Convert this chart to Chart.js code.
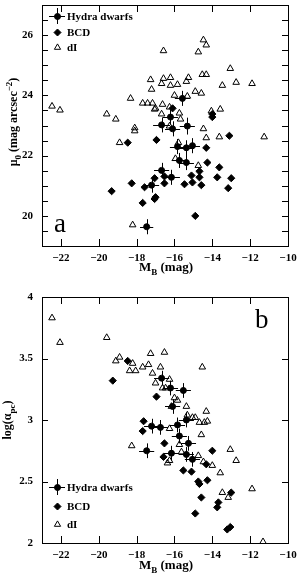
<!DOCTYPE html>
<html>
<head>
<meta charset="utf-8">
<script src="https://cdn.jsdelivr.net/npm/chart.js@4.4.1/dist/chart.umd.min.js"></script>
<style>
  html, body { margin: 0; padding: 0; background: #fff; }
  #wrap { position: relative; width: 299px; height: 574px; }
  canvas { position: absolute; left: 0; display: block; }
</style>
</head>
<body>
<div id="wrap">
  <canvas id="panelA" width="299" height="287" style="top:0"></canvas>
  <canvas id="panelB" width="299" height="287" style="top:287px"></canvas>
</div>
<script>
// Two-panel dwarf galaxy plot: central surface brightness (a) and scale length (b) vs M_B

// ============ DATA ============

const X_TICKS = [-22, -20, -18, -16, -14, -12, -10];

// panel a: mu_0 (mag arcsec^-2)
const A_Y_LABELS = [20, 22, 24, 26];
const A_Y_TICKS = [19, 19.5, 20, 20.5, 21, 21.5, 22, 22.5, 23, 23.5, 24, 24.5, 25, 25.5, 26, 26.5, 27];

const A_HYDRA_MB = [-15.58, -16.21, -16.68, -16.10, -15.32, -15.84, -15.37, -15.05, -15.74, -15.37, -16.68, -16.16, -17.21, -17.47];
const A_HYDRA_MU = [23.90, 23.28, 23.02, 22.89, 22.98, 22.30, 22.26, 22.33, 21.84, 21.77, 21.51, 21.28, 21.02, 19.64];
const A_HYDRA_XERR = [0.40, 0.40, 0.45, 0.40, 0.40, 0.40, 0.40, 0.40, 0.40, 0.40, 0.40, 0.45, 0.40, 0.35];
const A_HYDRA_YERR = [0.25, 0.25, 0.25, 0.25, 0.28, 0.25, 0.25, 0.25, 0.25, 0.25, 0.25, 0.25, 0.25, 0.25];

const A_BCD_MB = [-16.10, -14.00, -14.00, -13.10, -18.47, -16.95, -14.32, -14.26, -13.63, -14.68, -15.10, -14.68, -13.74, -13.00,
                  -15.05, -15.47, -14.58, -13.16, -16.53, -16.53, -17.05, -18.26, -17.58, -17.00, -17.05, -17.68, -19.32, -14.90];
const A_BCD_MU = [23.57, 23.38, 23.28, 22.66, 22.43, 22.52, 22.26, 21.77, 21.61, 21.48, 21.34, 21.28, 21.28, 21.25,
                  21.11, 21.05, 21.02, 20.92, 21.31, 21.08, 21.25, 21.08, 20.95, 20.62, 20.56, 20.43, 20.82, 20.00];

const A_DI_MB = [-22.47, -22.05, -19.58, -19.10, -18.32, -18.10, -18.10, -18.90, -17.68, -17.42, -17.16, -17.26, -17.21,
                 -17.00, -16.68, -16.68, -16.63, -16.58, -16.58, -16.26, -16.21, -16.21, -16.26, -16.00, -15.84, -15.74,
                 -15.68, -15.79, -15.37, -15.26, -15.32, -14.90, -14.58, -14.74, -14.53, -14.32, -14.47, -14.32, -14.47,
                 -14.32, -14.74, -14.05, -13.58, -13.63, -13.47, -13.05, -12.74, -11.90, -11.26, -18.21, -15.95, -17.05];
const A_DI_MU = [23.64, 23.51, 23.38, 23.21, 23.90, 22.92, 22.82, 22.43, 23.74, 23.74, 23.74, 24.52, 24.20,
                 23.57, 24.39, 23.38, 23.70, 25.48, 24.56, 23.61, 24.59, 24.33, 22.98, 24.00, 24.36, 23.41,
                 23.21, 22.43, 24.46, 24.59, 23.97, 24.13, 24.07, 25.44, 24.69, 24.69, 25.84, 25.67, 22.89,
                 22.59, 21.67, 23.48, 23.54, 22.62, 24.33, 24.89, 24.43, 24.39, 22.62, 19.70, 21.90, 23.54];

// panel b: log(alpha_pc)
const B_Y_LABELS = [2, 2.5, 3, 3.5, 4];
const B_Y_TICKS = [2, 2.5, 3, 3.5, 4];

const B_HYDRA_MB = [-16.68, -16.21, -15.53, -16.10, -15.37, -15.84, -17.21, -16.74, -15.74, -15.26, -17.47, -16.16, -15.37, -15.05];
const B_HYDRA_LA = [3.34, 3.26, 3.24, 3.11, 3.00, 2.96, 2.95, 2.94, 2.87, 2.81, 2.75, 2.73, 2.72, 2.68];
const B_HYDRA_XERR = [0.40, 0.40, 0.40, 0.40, 0.40, 0.40, 0.40, 0.40, 0.40, 0.40, 0.40, 0.40, 0.40, 0.40];
const B_HYDRA_YERR = [0.06, 0.06, 0.06, 0.06, 0.06, 0.06, 0.06, 0.06, 0.06, 0.06, 0.06, 0.06, 0.06, 0.06];

const B_BCD_MB = [-19.26, -18.47, -17.63, -16.95, -17.68, -16.53, -16.58, -14.00, -15.53, -15.10, -14.74, -14.68, -14.26, -14.32,
                  -13.00, -14.58, -13.68, -13.74, -14.90, -13.05, -13.21];
const B_BCD_LA = [3.32, 3.48, 2.99, 3.19, 2.91, 2.81, 2.70, 2.75, 2.59, 2.58, 2.50, 2.48, 2.51, 2.64,
                  2.41, 2.37, 2.33, 2.29, 2.24, 2.13, 2.11];

const B_DI_MB = [-22.47, -22.05, -19.58, -18.90, -19.10, -18.21, -18.37, -18.05, -17.68, -17.26, -17.37, -16.53, -16.74,
                 -17.16, -17.00, -16.26, -16.63, -16.47, -15.84, -15.37, -16.16, -15.32, -14.90, -14.32, -14.53, -15.05,
                 -14.68, -14.42, -14.26, -16.26, -14.58, -15.74, -15.63, -13.05, -12.74, -14.74, -16.26, -16.37, -14.47,
                 -14.00, -13.58, -13.47, -13.16, -11.90, -11.32, -18.26, -16.00];
const B_DI_LA = [3.83, 3.63, 3.67, 3.51, 3.48, 3.46, 3.40, 3.40, 3.43, 3.54, 3.45, 3.55, 3.43,
                 3.38, 3.30, 3.33, 3.26, 3.26, 3.16, 3.11, 3.11, 3.04, 3.02, 3.07, 3.43, 3.02,
                 2.98, 2.98, 2.99, 2.93, 2.88, 2.80, 2.74, 2.76, 2.67, 2.71, 2.67, 2.65, 2.66,
                 2.63, 2.57, 2.41, 2.37, 2.44, 2.01, 2.79, 3.18];

// ============ HELPERS ============

const FONT = '"Liberation Serif", "DejaVu Serif", serif';

function pts(xs, ys) {
  return xs.map((x, i) => ({ x: x, y: ys[i] }));
}

function minus(v) {
  return String(v).replace('-', '\u2212');
}

// draw text with sub/superscript pieces: [text, 'sub'|'sup'|'']
function drawRich(ctx, parts, x, y, size) {
  let total = 0;
  parts.forEach(p => {
    ctx.font = `bold ${p[1] ? Math.round(size * 0.72) : size}px ${FONT}`;
    total += ctx.measureText(p[0]).width;
  });
  let cx = x - total / 2;
  parts.forEach(p => {
    ctx.font = `bold ${p[1] ? Math.round(size * 0.72) : size}px ${FONT}`;
    const dy = p[1] === 'sub' ? size * 0.3 : p[1] === 'sup' ? -size * 0.4 : 0;
    ctx.fillText(p[0], cx, y + dy);
    cx += ctx.measureText(p[0]).width;
  });
}

function drawLegendSymbol(ctx, kind, x, y) {
  ctx.save();
  ctx.strokeStyle = '#000';
  ctx.fillStyle = '#000';
  ctx.lineWidth = 1;
  if (kind === 'hydra') {
    ctx.beginPath();
    ctx.moveTo(x - 8, y + 0.5); ctx.lineTo(x + 8, y + 0.5);
    ctx.moveTo(x + 0.5, y - 8); ctx.lineTo(x + 0.5, y + 8);
    ctx.stroke();
    Chart.helpers.drawPoint(ctx, { pointStyle: 'circle', radius: 3, borderWidth: 1 }, x + 0.5, y + 0.5);
  } else if (kind === 'bcd') {
    Chart.helpers.drawPoint(ctx, { pointStyle: 'rectRot', radius: 3.5, borderWidth: 1 }, x + 0.5, y + 0.5);
  } else {
    ctx.fillStyle = 'rgba(0,0,0,0)';
    Chart.helpers.drawPoint(ctx, { pointStyle: 'triangle', radius: 3.6, borderWidth: 1 }, x + 0.5, y + 0.5);
  }
  ctx.restore();
}

// frame, inward ticks, error bars, legend, axis titles
const decorPlugin = {
  id: 'decor',
  afterDatasetsDraw(chart, args, opts) {
    const ctx = chart.ctx;
    const a = chart.chartArea;
    const xs = chart.scales.x, ys = chart.scales.y;
    ctx.save();
    ctx.strokeStyle = '#000';
    ctx.fillStyle = '#000';
    ctx.lineWidth = 1;

    // error bars on the Hydra points
    const hx = opts.hydraX, hy = opts.hydraY;
    ctx.beginPath();
    hx.forEach((x, i) => {
      const px = Math.round(xs.getPixelForValue(x)) + 0.5;
      const py = Math.round(ys.getPixelForValue(hy[i])) + 0.5;
      ctx.moveTo(xs.getPixelForValue(x - opts.xerr[i]), py);
      ctx.lineTo(xs.getPixelForValue(x + opts.xerr[i]), py);
      ctx.moveTo(px, ys.getPixelForValue(hy[i] - opts.yerr[i]));
      ctx.lineTo(px, ys.getPixelForValue(hy[i] + opts.yerr[i]));
    });
    ctx.stroke();

    // box
    ctx.strokeRect(a.left + 0.5, a.top + 0.5, a.right - a.left, a.bottom - a.top);

    // ticks pointing in
    ctx.beginPath();
    X_TICKS.forEach(v => {
      const px = Math.round(xs.getPixelForValue(v)) + 0.5;
      ctx.moveTo(px, a.bottom); ctx.lineTo(px, a.bottom - 7);
      ctx.moveTo(px, a.top); ctx.lineTo(px, a.top + 7);
    });
    opts.yTicks.forEach(v => {
      const py = Math.round(ys.getPixelForValue(v)) + 0.5;
      ctx.moveTo(a.left, py); ctx.lineTo(a.left + 6, py);
      ctx.moveTo(a.right, py); ctx.lineTo(a.right - 6, py);
    });
    ctx.stroke();

    // legend
    ctx.textBaseline = 'middle';
    ctx.textAlign = 'left';
    ctx.font = `bold 11px ${FONT}`;
    opts.legend.forEach(item => {
      drawLegendSymbol(ctx, item.kind, 57, item.y);
      ctx.fillText(item.text, 67, item.y + 1);
    });

    // panel letter
    ctx.textBaseline = 'alphabetic';
    ctx.font = `27px ${FONT}`;
    ctx.fillText(opts.letter.text, opts.letter.x, opts.letter.y);

    // x title
    drawRich(ctx, [['M', ''], ['B', 'sub'], [' (mag)', '']], 166, opts.xTitleY, 13);

    // y title (rotated)
    ctx.translate(opts.yTitleX, opts.yTitleY);
    ctx.rotate(-Math.PI / 2);
    drawRich(ctx, opts.yTitle, 0, 0, 12);
    ctx.restore();
  }
};

function tickFont() {
  return { family: FONT, size: 11, weight: 'bold' };
}

function makePanel(id, cfg) {
  return new Chart(document.getElementById(id), {
    type: 'scatter',
    data: {
      datasets: [
        {
          label: 'dI',
          data: pts(cfg.di[0], cfg.di[1]),
          pointStyle: 'triangle',
          pointRadius: 3.8,
          borderColor: '#000',
          backgroundColor: 'rgba(0,0,0,0)',
          borderWidth: 1
        },
        {
          label: 'BCD',
          data: pts(cfg.bcd[0], cfg.bcd[1]),
          pointStyle: 'rectRot',
          pointRadius: 3.6,
          borderColor: '#000',
          backgroundColor: '#000',
          borderWidth: 1
        },
        {
          label: 'Hydra dwarfs',
          data: pts(cfg.hydra[0], cfg.hydra[1]),
          pointStyle: 'circle',
          pointRadius: 3,
          borderColor: '#000',
          backgroundColor: '#000',
          borderWidth: 1
        }
      ]
    },
    options: {
      responsive: false,
      animation: false,
      devicePixelRatio: 1,
      layout: { padding: cfg.padding },
      plugins: {
        legend: { display: false },
        tooltip: { enabled: false },
        decor: cfg.decor
      },
      scales: {
        x: {
          type: 'linear',
          min: -23,
          max: -10,
          afterBuildTicks: s => { s.ticks = X_TICKS.map(v => ({ value: v })); },
          afterFit: s => { s.height = cfg.xHeight; s.paddingLeft = 0; s.paddingRight = 0; },
          grid: { display: false, drawTicks: false },
          border: { display: false },
          ticks: { color: '#000', font: tickFont(), padding: 6, maxRotation: 0, autoSkip: false, callback: v => minus(v) }
        },
        y: {
          type: 'linear',
          min: cfg.ymin,
          max: cfg.ymax,
          afterBuildTicks: s => { s.ticks = cfg.yLabels.map(v => ({ value: v })); },
          afterFit: s => { s.width = 42; s.paddingTop = 0; s.paddingBottom = 0; },
          grid: { display: false, drawTicks: false },
          border: { display: false },
          ticks: { color: '#000', font: tickFont(), padding: 9, autoSkip: false, callback: v => String(v) }
        }
      }
    },
    plugins: [decorPlugin]
  });
}

// ============ PANELS ============

makePanel('panelA', {
  hydra: [A_HYDRA_MB, A_HYDRA_MU],
  bcd: [A_BCD_MB, A_BCD_MU],
  di: [A_DI_MB, A_DI_MU],
  ymin: 19, ymax: 27,
  yLabels: A_Y_LABELS,
  xHeight: 41,
  padding: { left: 0, right: 11, top: 1, bottom: 0 },
  decor: {
    hydraX: A_HYDRA_MB, hydraY: A_HYDRA_MU, xerr: A_HYDRA_XERR, yerr: A_HYDRA_YERR,
    yTicks: A_Y_TICKS,
    legend: [
      { kind: 'hydra', text: 'Hydra dwarfs', y: 16 },
      { kind: 'bcd', text: 'BCD', y: 32 },
      { kind: 'di', text: 'dI', y: 47 }
    ],
    letter: { text: 'a', x: 54, y: 232 },
    xTitleY: 271,
    yTitleX: 17, yTitleY: 122,
    yTitle: [['\u03bc', ''], ['0', 'sub'], [' (mag arcsec', ''], ['\u22122', 'sup'], [')', '']]
  }
});

makePanel('panelB', {
  hydra: [B_HYDRA_MB, B_HYDRA_LA],
  bcd: [B_BCD_MB, B_BCD_LA],
  di: [B_DI_MB, B_DI_LA],
  ymin: 2, ymax: 4,
  yLabels: B_Y_LABELS,
  xHeight: 31,
  padding: { left: 0, right: 11, top: 10, bottom: 0 },
  decor: {
    hydraX: B_HYDRA_MB, hydraY: B_HYDRA_LA, xerr: B_HYDRA_XERR, yerr: B_HYDRA_YERR,
    yTicks: B_Y_TICKS,
    legend: [
      { kind: 'hydra', text: 'Hydra dwarfs', y: 200 },
      { kind: 'bcd', text: 'BCD', y: 219 },
      { kind: 'di', text: 'dI', y: 237 }
    ],
    letter: { text: 'b', x: 255, y: 41 },
    xTitleY: 282,
    yTitleX: 11, yTitleY: 133,
    yTitle: [['log(\u03b1', ''], ['pc', 'sub'], [')', '']]
  }
});
</script>
</body>
</html>
